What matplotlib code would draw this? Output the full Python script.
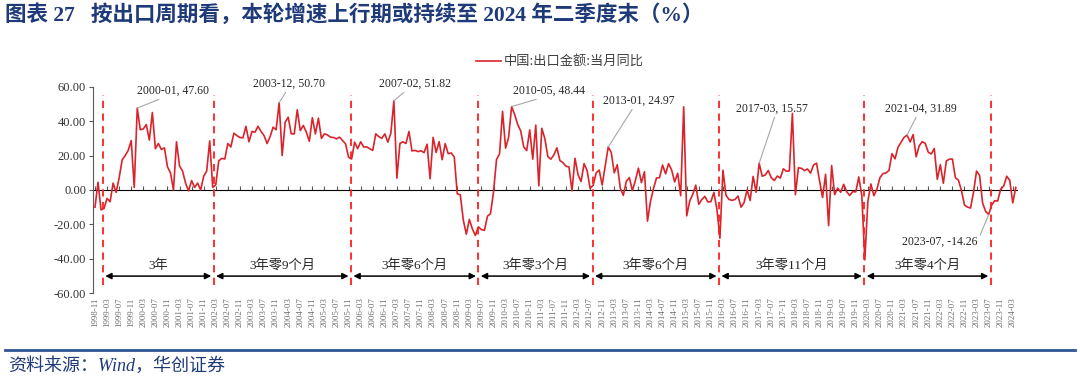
import numpy as np
import pandas as pd
import matplotlib
matplotlib.use('Agg')
import matplotlib.pyplot as plt
from matplotlib.lines import Line2D

plt.rcParams['font.family'] = ['Liberation Serif', 'Noto Sans CJK SC']
plt.rcParams['axes.unicode_minus'] = False

# ---------------- data ----------------
months = pd.period_range('1998-11', '2024-04', freq='M').strftime('%Y-%m').tolist()

v1998 = [-10.0, 4.5]
v1999 = [-11.5, -10.7, -4.9, -6.8, 4.0, -1.4, 7.0, 17.5, 20.0, 23.0, 28.7, 1.5]
v2000 = [47.6, 35.0, 35.5, 38.0, 29.0, 45.0, 24.0, 27.0, 23.5, 24.5, 13.5, 10.0]
v2001 = [0.0, 28.0, 14.0, 11.0, 4.0, -0.5, 5.5, 1.5, 4.0, 0.0, 8.0, 11.0]
v2002 = [28.5, 1.5, 3.0, 17.0, 18.4, 18.0, 27.0, 25.0, 33.0, 31.6, 30.5, 30.3]
v2003 = [37.0, 28.0, 34.0, 33.6, 37.0, 34.0, 31.6, 27.0, 31.0, 36.5, 35.0, 50.7]
v2004 = [20.0, 39.4, 42.3, 32.6, 32.6, 46.6, 34.5, 37.5, 33.6, 28.3, 42.0, 32.6]
v2005 = [41.7, 30.0, 32.6, 32.0, 30.7, 30.5, 29.7, 30.7, 28.7, 26.8, 19.0, 18.0]
v2006 = [27.8, 24.0, 28.0, 25.0, 25.0, 24.0, 23.0, 32.6, 31.0, 30.0, 32.6, 27.8]
v2007 = [33.0, 51.82, 6.9, 27.0, 28.0, 27.0, 34.0, 22.7, 23.0, 22.3, 22.8, 21.7]
v2008 = [26.6, 6.5, 30.6, 21.8, 28.1, 17.6, 26.9, 21.1, 21.5, 19.2, -2.2, -2.8]
v2009 = [-17.5, -25.7, -17.1, -22.6, -26.4, -21.4, -23.0, -23.4, -15.2, -13.8, -1.2, 17.7]
v2010 = [21.0, 45.7, 24.3, 30.5, 48.44, 43.9, 38.1, 34.4, 25.1, 22.9, 34.9, 17.9]
v2011 = [37.7, 2.4, 35.8, 29.9, 19.4, 17.9, 20.4, 24.5, 17.1, 15.9, 13.8, 13.4]
v2012 = [-0.5, 18.4, 8.9, 4.9, 15.3, 11.3, 1.0, 2.7, 9.9, 11.6, 2.9, 14.1]
v2013 = [24.97, 21.8, 10.0, 14.7, 1.0, -3.1, 5.1, 7.2, -0.3, 5.6, 12.7, 4.3]
v2014 = [10.6, -18.1, -6.6, 0.9, 7.0, 7.2, 14.5, 9.4, 15.3, 11.6, 4.7, 9.7]
v2015 = [-3.3, 48.3, -15.0, -6.4, -2.5, 2.8, -8.3, -5.5, -3.7, -6.9, -6.8, -1.4]
v2016 = [-11.2, -28.0, 11.5, -3.0, -5.5, -6.0, -5.5, -3.5, -10.0, -7.3, 0.1, -6.1]
v2017 = [7.9, -1.3, 15.57, 8.0, 8.7, 11.3, 7.2, 5.5, 8.1, 6.9, 12.3, 10.9]
v2018 = [11.1, 44.5, -2.7, 12.9, 12.6, 11.3, 12.2, 9.8, 14.5, 15.6, 5.4, -4.4]
v2019 = [9.1, -20.7, 14.2, -2.7, 1.1, -1.3, 3.3, -1.0, -3.2, -0.9, -1.1, 7.6]
v2020 = [-3.3, -40.6, -6.6, 3.5, -3.3, 0.5, 7.2, 9.5, 9.9, 11.4, 21.1, 18.1]
v2021 = [24.9, 27.8, 30.6, 31.89, 27.9, 32.2, 19.3, 25.6, 28.1, 27.1, 22.0, 20.9]
v2022 = [24.1, 6.2, 14.7, 3.9, 16.9, 17.9, 18.0, 7.1, 5.7, -0.3, -8.7, -9.9]
v2023 = [-10.5, -1.3, 11.0, 8.5, -7.5, -12.4, -14.26, -8.8, -6.2, -6.4, 0.5, 2.3]
v2024 = [8.0, 5.6, -7.5, 1.5]

export_yoy = (v1998 + v1999 + v2000 + v2001 + v2002 + v2003 + v2004 + v2005 +
              v2006 + v2007 + v2008 + v2009 + v2010 + v2011 + v2012 + v2013 +
              v2014 + v2015 + v2016 + v2017 + v2018 + v2019 + v2020 + v2021 +
              v2022 + v2023 + v2024)

series_name = '中国:出口金额:当月同比'
annot_months = ['2000-01', '2003-12', '2007-02', '2010-05', '2013-01', '2017-03', '2021-04', '2023-07']
cycle_texts = ['3年', '3年零9个月', '3年零6个月', '3年零3个月', '3年零6个月', '3年零11个月', '3年零4个月']

title = '图表 27   按出口周期看，本轮增速上行期或持续至 2024 年二季度末（%）'
source = '资料来源：Wind，华创证券'

# ---------------- layout constants ----------------
boundary_pos = [2.6, 39.3, 84.8, 127.0, 164.8, 206.7, 254.8, 296.7]   # cycle divider positions (month axis)
annot_text_pos = [(13.9, 57.7), (52.3, 61.8), (94.1, 61.8), (138.5, 57.7),
                  (168.3, 51.9), (212.3, 47.3), (261.7, 47.3), (267.3, -30.1)]
annot_relpos = [(0.4, 0), (0.48, 0), (0.39, 0), (0.45, 0), (0.43, 0), (0.55, 0), (0.45, 0), (1.0, 0.5)]

W, H = 1080, 378
fig = plt.figure(figsize=(W / 100, H / 100), dpi=100)
ax = fig.add_axes([93 / W, 1 - 293.3 / H, (1017 - 93) / W, (293.3 - 86.7) / H])

x = np.arange(len(months))
line_color = '#D9242B'
ax.plot(x, export_yoy, color=line_color, lw=1.2, label=series_name, zorder=3)

ax.set_xlim(-0.66, 305.4)
ax.set_ylim(-60, 60)

# y axis
yt = np.arange(-60, 61, 20)
ax.set_yticks(yt)
ax.set_yticklabels([f'{v:.2f}' for v in yt], fontsize=9, color='#333333')
ax.tick_params(axis='y', length=3, direction='out', color='#595959', width=0.8, pad=2)

# x axis labels at bottom
ax.set_xticks(x[::4])
ax.set_xticklabels(months[::4], rotation=90, fontsize=6.5, color='#707070')
ax.tick_params(axis='x', length=0, pad=3)
for s in ['top', 'right', 'bottom']:
    ax.spines[s].set_visible(False)
ax.spines['left'].set_color('#595959')
ax.spines['left'].set_linewidth(0.8)

# zero axis line with ticks (no labels)
sec = ax.secondary_xaxis(0.5)
sec.set_xticks(x[::4], labels=[''] * len(x[::4]))
sec.tick_params(axis='x', length=3, direction='out', color='#595959', width=0.8)
sec.spines['bottom'].set_color('#595959')
sec.spines['bottom'].set_linewidth(0.8)

# cycle dividers
for b in boundary_pos:
    ax.plot([b, b], [-55, 55], color='#FF2020', lw=1.3, ls=(0, (4, 3)), zorder=4)

# arrows and cycle texts
for i, txt in enumerate(cycle_texts):
    a, b = boundary_pos[i], boundary_pos[i + 1]
    ax.annotate('', xy=(b - 0.8, -50), xytext=(a + 0.8, -50),
                arrowprops=dict(arrowstyle='<|-|>', color='black', lw=1.1,
                                mutation_scale=9, shrinkA=0, shrinkB=0))
    ax.text((a + b) / 2, -44, txt, ha='center', va='center', fontsize=9.5, color='#262626')

# peak annotations
for m, tp, rp in zip(annot_months, annot_text_pos, annot_relpos):
    i = months.index(m)
    val = export_yoy[i]
    ax.annotate(f'{m}, {val:.2f}', xy=(i, val), xytext=tp, textcoords='data',
                ha='left', va='center', fontsize=8.5, color='#262626',
                arrowprops=dict(arrowstyle='-', color='#A6A6A6', lw=0.8,
                                shrinkA=0, shrinkB=0, relpos=rp),
                annotation_clip=False)

# legend
leg = ax.legend(loc='center', bbox_to_anchor=(560 / W, 1 - 61.7 / H), bbox_transform=fig.transFigure,
                frameon=False, fontsize=9.5, handlelength=1.9, handletextpad=0.2, borderpad=0)
for t in leg.get_texts():
    t.set_family(['Noto Sans CJK SC'])
    t.set_color('#404040')

# title
fig.text(5 / W, 1 - 15 / H, title, ha='left', va='center', fontsize=15.5, fontweight='bold', color='#1F3A78')

# bottom rule and source
fig.add_artist(Line2D([5 / W, 1075 / W], [1 - 349.5 / H, 1 - 349.5 / H], color='#2E5597', lw=2))
fig.text(8 / W, 1 - 366 / H, source, ha='left', va='center', fontsize=13, style='italic', color='#1F3A78')

fig.savefig('out.png', dpi=100)
